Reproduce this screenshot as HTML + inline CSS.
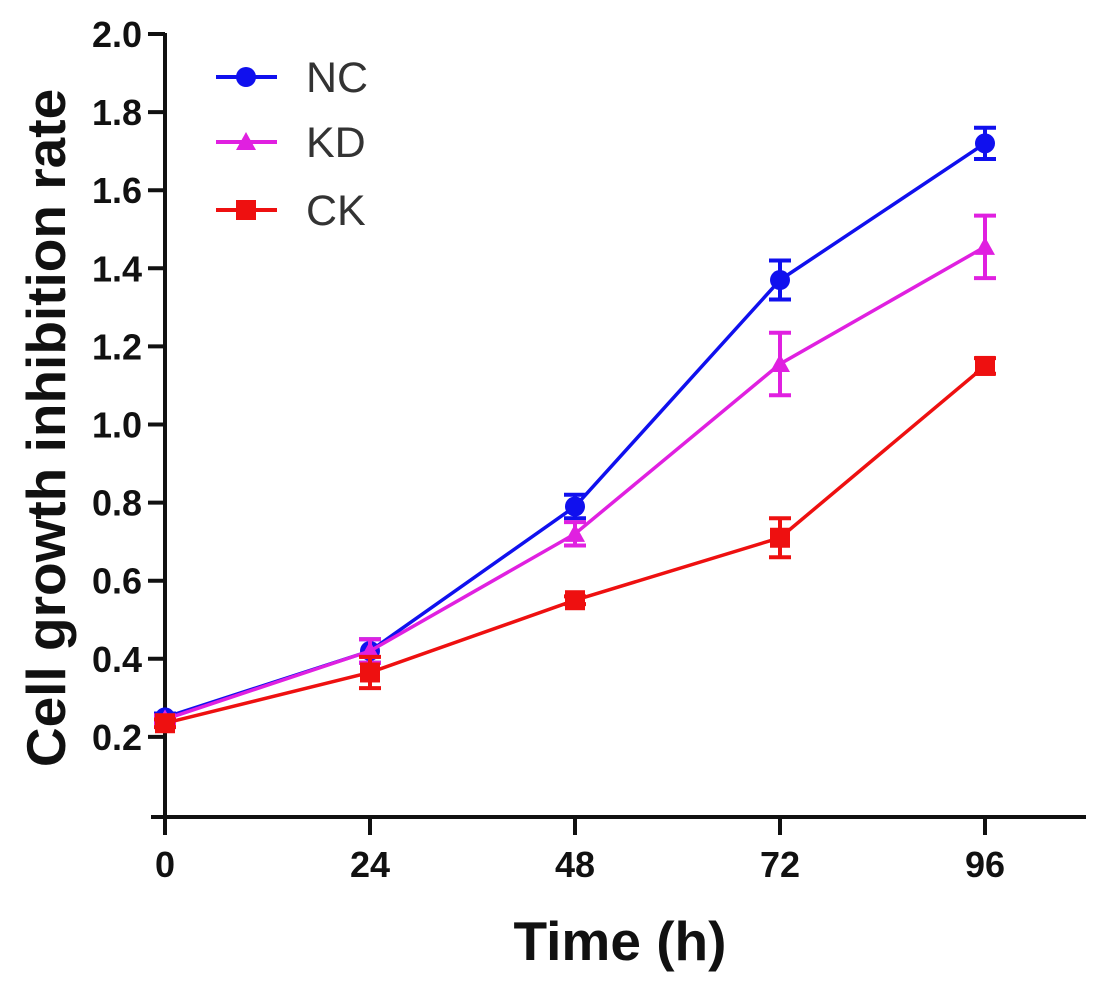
<!DOCTYPE html>
<html><head><meta charset="utf-8"><style>
html,body{margin:0;padding:0;background:#fff;}
svg{display:block;font-family:"Liberation Sans",Arial,sans-serif;}
</style></head><body>
<svg id="chart" width="1102" height="986" viewBox="0 0 1102 986" xmlns="http://www.w3.org/2000/svg">
<g id="axes"></g>
<g id="series"></g>
<g id="legend"></g>
<text transform="translate(65,428) rotate(-90)" text-anchor="middle" font-size="55" font-weight="bold" fill="#111">Cell growth inhibition rate</text>
<text x="620" y="960" text-anchor="middle" font-size="55" font-weight="bold" fill="#111">Time (h)</text>
</svg>
<script>
const categories = [0, 24, 48, 72, 96];
const yTicks = [0.2, 0.4, 0.6, 0.8, 1.0, 1.2, 1.4, 1.6, 1.8, 2.0];
const seriesNames = ["NC", "KD", "CK"];
const ncValues = [0.25, 0.42, 0.79, 1.37, 1.72];
const ncErrors = [0.01, 0.03, 0.03, 0.05, 0.04];
const kdValues = [0.245, 0.42, 0.72, 1.155, 1.455];
const kdErrors = [0.01, 0.03, 0.03, 0.08, 0.08];
const ckValues = [0.235, 0.365, 0.55, 0.71, 1.15];
const ckErrors = [0.01, 0.04, 0.01, 0.05, 0.02];

const NS = "http://www.w3.org/2000/svg";
function xS(t){ return 165 + t * (205/24); }
function yS(v){ return 815 - v * 390.5; }
function mk(tag, attrs, parent){
  const e = document.createElementNS(NS, tag);
  for (const k in attrs) e.setAttribute(k, attrs[k]);
  parent.appendChild(e); return e;
}
const axes = document.getElementById('axes');
let l = mk('line',{x1:165,y1:yS(2.0)-1,x2:165,y2:818,stroke:'#111','stroke-width':4},axes);


l = mk('line',{x1:151,y1:817,x2:1086,y2:817,stroke:'#111','stroke-width':4},axes);


yTicks.forEach(v=>{
  const t = mk('line',{x1:148,y1:yS(v),x2:165,y2:yS(v),stroke:'#111','stroke-width':4},axes);
  
  
  const tx = mk('text',{x:142,y:yS(v)+13,'text-anchor':'end','font-size':36,'font-weight':'bold',fill:'#111'},axes);
  tx.textContent = v.toFixed(1);
  
  
});
categories.forEach(c=>{
  const t = mk('line',{x1:xS(c),y1:817,x2:xS(c),y2:835,stroke:'#111','stroke-width':4},axes);
  
  
  const tx = mk('text',{x:xS(c),y:877,'text-anchor':'middle','font-size':36,'font-weight':'bold',fill:'#111'},axes);
  tx.textContent = String(c);
  
  
});

function marker(shape, x, y, color, parent){
  let m;
  if (shape==='circle') m = mk('circle',{cx:x,cy:y,r:10,fill:color},parent);
  else if (shape==='triangle') m = mk('polygon',{points:`${x},${y-10} ${x+10},${y+8} ${x-10},${y+8}`,fill:color},parent);
  else m = mk('rect',{x:x-10,y:y-10,width:20,height:20,fill:color},parent);
  return m;
}
const seriesG = document.getElementById('series');
const defs = [
  {vals:ncValues, errs:ncErrors, color:'#1010ee', shape:'circle', name:'nc'},
  {vals:kdValues, errs:kdErrors, color:'#e020e0', shape:'triangle', name:'kd'},
  {vals:ckValues, errs:ckErrors, color:'#ee1010', shape:'square', name:'ck'}
];
defs.forEach(d=>{
  const g = mk('g',{},seriesG);
  
  
  const pts = categories.map((c,i)=>xS(c)+','+yS(d.vals[i])).join(' ');
  const pl = mk('polyline',{points:pts,fill:'none',stroke:d.color,'stroke-width':3.5},g);
  
  
  categories.forEach((c,i)=>{
    const x = xS(c), y1 = yS(d.vals[i]+d.errs[i]), y2 = yS(d.vals[i]-d.errs[i]);
    const eb = mk('path',{d:`M${x},${y1}V${y2}M${x-11},${y1}H${x+11}M${x-11},${y2}H${x+11}`,stroke:d.color,'stroke-width':4,fill:'none'},g);
    
    
    const m = marker(d.shape, x, yS(d.vals[i]), d.color, g);
    
    
  });
});

const legend = document.getElementById('legend');
const legY = [77, 142, 210];
defs.forEach((d,i)=>{
  const g = mk('g',{},legend);
  
  
  mk('line',{x1:216,y1:legY[i],x2:277,y2:legY[i],stroke:d.color,'stroke-width':4},g);
  marker(d.shape, 246, legY[i], d.color, g);
  const tx = mk('text',{x:306,y:legY[i]+15,'font-size':43,fill:'#333'},g);
  tx.textContent = seriesNames[i];
});
</script>
</body></html>
